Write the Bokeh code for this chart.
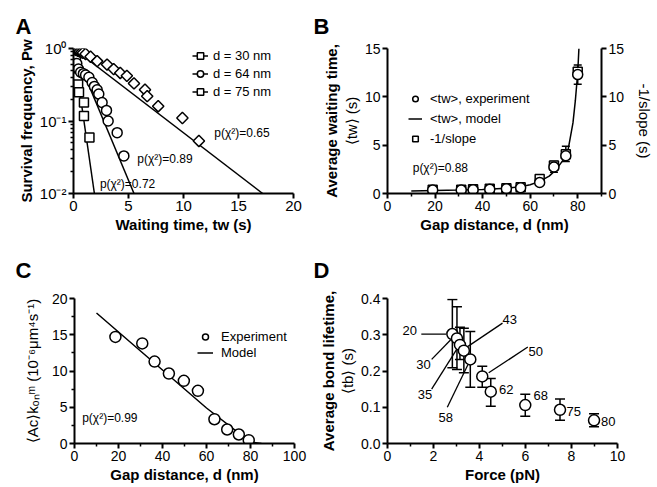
from bokeh.plotting import figure
from bokeh.models import (Range1d, LinearAxis, FixedTicker, Label, Legend, LegendItem,
                          Whisker, ColumnDataSource, CustomJSTickFormatter)
from bokeh.layouts import column, row
from bokeh.embed import file_html
from bokeh.resources import INLINE

FONT = "Liberation Sans"

# ---------------- Panel A data ----------------
a_t30 = [0.03, 0.07, 0.1, 0.15, 0.2, 0.25, 0.3, 0.38, 0.42, 0.5, 0.95, 0.95, 1.45]
a_p30 = [0.95, 0.88, 0.8, 0.72, 0.64, 0.56, 0.5, 0.4, 0.32, 0.25, 0.18, 0.117, 0.059]
a_t64 = [0.05, 0.1, 0.15, 0.2, 0.3, 0.45, 0.65, 0.9, 1.1, 1.4, 1.7, 1.9, 2.15, 2.3, 2.6, 3.0, 3.15, 3.97, 4.58]
a_p64 = [0.97, 0.9, 0.82, 0.75, 0.62, 0.52, 0.47, 0.45, 0.43, 0.4, 0.34, 0.3, 0.27, 0.235, 0.18, 0.14, 0.1, 0.069, 0.033]
a_t75 = [0.05, 0.15, 0.25, 0.4, 0.55, 0.7, 0.85, 1.1, 1.55, 2.15, 3.05, 3.65, 4.25, 4.85, 5.5, 6.5, 6.7, 7.7, 9.9, 11.4]
a_p75 = [0.99, 0.97, 0.95, 0.93, 0.91, 0.89, 0.87, 0.84, 0.77, 0.67, 0.6, 0.52, 0.46, 0.42, 0.33, 0.27, 0.22, 0.16, 0.11, 0.053]
a_fit30_t = [0, 1.9]
a_fit30_p = [1, 0.01]
a_fit64_t = [0, 5.5]
a_fit64_p = [1, 0.01]
a_fit75_t = [0, 17.2]
a_fit75_p = [1, 0.01]
a_labels = ["d = 30 nm", "d = 64 nm", "d = 75 nm"]
a_pchi = ["p(χ²)=0.72", "p(χ²)=0.89", "p(χ²)=0.65"]
a_pchi_x = [2.4, 5.8, 12.8]
a_pchi_y = [0.0135, 0.0295, 0.068]

# ---------------- Panel B data ----------------
b_d = [19, 31, 36, 43, 50, 56, 64, 70, 75, 80]
b_tw = [0.35, 0.35, 0.4, 0.45, 0.5, 0.6, 1.15, 2.75, 3.9, 12.3]
b_slope = [0.4, 0.4, 0.45, 0.5, 0.55, 0.65, 1.5, 2.9, 4.05, 12.6]
b_err_d = [64, 70, 75, 80]
b_err_lo = [0.95, 2.2, 3.3, 11.3]
b_err_hi = [1.6, 3.3, 4.9, 13.3]
b_model_d = [10, 20, 30, 40, 50, 56, 60, 64, 68, 71, 74, 76, 78, 79, 80, 80.5]
b_model_t = [0.25, 0.3, 0.35, 0.42, 0.55, 0.7, 0.9, 1.25, 1.8, 2.5, 3.5, 4.6, 7.3, 9.6, 12.5, 15.0]

# ---------------- Panel C data ----------------
c_d = [18.6, 30.8, 36.4, 42.9, 49.7, 56.1, 63.6, 69.4, 74.7, 79.2]
c_k = [14.7, 13.8, 11.3, 9.65, 8.64, 7.26, 3.35, 1.93, 1.24, 0.46]
c_err_d = [36.4]
c_err_lo = [10.8]
c_err_hi = [11.8]
c_model_d = [10, 60, 80, 85]
c_model_k = [18.0, 4.9, 0.2, 0.0]

# ---------------- Panel D data ----------------
d_f = [2.82, 3.02, 3.15, 3.32, 3.6, 4.12, 4.49, 5.99, 7.5, 8.98]
d_tb = [0.302, 0.29, 0.272, 0.256, 0.232, 0.185, 0.143, 0.106, 0.093, 0.064]
d_lo = [0.209, 0.204, 0.232, 0.195, 0.155, 0.155, 0.103, 0.075, 0.064, 0.046]
d_hi = [0.397, 0.377, 0.321, 0.318, 0.309, 0.213, 0.179, 0.136, 0.123, 0.082]
d_lab = ["20", "30", "35", "43", "58", "50", "62", "68", "75", "80"]
d_lab_x = [0.65, 1.25, 1.32, 5.0, 2.22, 6.13, 4.85, 6.35, 7.78, 9.28]
d_lab_y = [0.312, 0.218, 0.134, 0.341, 0.073, 0.254, 0.15, 0.132, 0.088, 0.061]
d_lead_x0 = [1.47, 1.92, 1.92, 5.0, 2.6, 6.1]
d_lead_y0 = [0.302, 0.232, 0.15, 0.332, 0.1, 0.266]
d_lead_x1 = [2.55, 2.75, 3.05, 3.5, 3.5, 4.4]
d_lead_y1 = [0.302, 0.286, 0.264, 0.268, 0.218, 0.195]


def style_axis(ax, tick_size="14px"):
    ax.axis_line_width = 2
    ax.axis_line_color = "black"
    ax.major_tick_line_width = 2
    ax.major_tick_line_color = "black"
    ax.major_tick_out = 5
    ax.major_tick_in = 0
    ax.minor_tick_line_width = 1.5
    ax.minor_tick_line_color = "black"
    ax.minor_tick_out = 3
    ax.minor_tick_in = 0
    ax.major_label_text_font = FONT
    ax.major_label_text_font_size = tick_size
    ax.major_label_text_color = "black"
    ax.major_label_standoff = 2
    ax.axis_label_text_font = FONT
    ax.axis_label_text_font_size = "15px"
    ax.axis_label_text_font_style = "bold"
    ax.axis_label_text_color = "black"
    ax.axis_label_standoff = 2


def make_fig(w, h, xr, yr, left, right, top, bottom, letter, offset, standoff, y_type="linear"):
    p = figure(width=w, height=h, x_range=xr, y_range=yr, y_axis_type=y_type,
               output_backend="svg", toolbar_location=None, title=letter,
               min_border_left=left, min_border_right=right,
               min_border_top=top, min_border_bottom=bottom)
    p.outline_line_color = None
    p.xgrid.visible = False
    p.ygrid.visible = False
    p.title.text_font = FONT
    p.title.text_font_size = "22px"
    p.title.text_font_style = "bold"
    p.title.text_color = "black"
    p.title.align = "left"
    p.title.offset = offset
    p.title.standoff = standoff
    for ax in p.axis:
        style_axis(ax)
    return p


def outer_label(p, text):
    ax = LinearAxis(ticker=FixedTicker(ticks=[]), axis_label=text)
    style_axis(ax)
    ax.axis_line_color = None
    ax.major_tick_line_color = None
    ax.minor_tick_line_color = None
    ax.axis_label_standoff = 0
    p.add_layout(ax, "left")


def legend(p, items, loc, gw, gh, sp, st):
    lg = Legend(items=items, location=loc)
    lg.label_text_font = FONT
    lg.label_text_font_size = "13px"
    lg.label_text_color = "black"
    lg.glyph_width = gw
    lg.glyph_height = gh
    lg.label_height = gh
    lg.spacing = sp
    lg.padding = 0
    lg.margin = 0
    lg.label_standoff = st
    lg.border_line_color = None
    lg.background_fill_alpha = 0
    p.add_layout(lg)


def plabel(p, x, y, text, size="12px"):
    p.add_layout(Label(x=x, y=y, text=text, text_font=FONT, text_font_size=size,
                       text_color="black", text_baseline="middle", text_align="left"))


# ================= Panel A =================
pa = make_fig(308, 240, Range1d(0, 20), Range1d(0.01, 1), 73, 15, 48, 47, "A", -58, 19, y_type="log")
pa.xaxis.ticker = FixedTicker(ticks=[0, 5, 10, 15, 20])
pa.yaxis.ticker = FixedTicker(ticks=[0.01, 0.1, 1],
                              minor_ticks=[0.02, 0.03, 0.04, 0.05, 0.06, 0.07, 0.08, 0.09,
                                           0.2, 0.3, 0.4, 0.5, 0.6, 0.7, 0.8, 0.9])
pa.yaxis.formatter = CustomJSTickFormatter(code="""
const e = Math.round(Math.log10(tick));
const sup = {'-': '\u207b', '0': '\u2070', '1': '\u00b9', '2': '\u00b2'};
return '10' + String(e).split('').map(c => sup[c]).join('');
""")
for ax in pa.axis:
    ax.major_label_text_font_size = "15px"
pa.xaxis.axis_label = "Waiting time, tw (s)"
pa.yaxis.axis_label = "Survival frequency, Pw"

l30 = pa.line(a_fit30_t, a_fit30_p, line_color="black", line_width=1.5)
l64 = pa.line(a_fit64_t, a_fit64_p, line_color="black", line_width=1.5)
l75 = pa.line(a_fit75_t, a_fit75_p, line_color="black", line_width=1.5)
s30 = pa.scatter(a_t30, a_p30, marker="square", size=9, fill_color="white", line_color="black", line_width=1.5)
s64 = pa.scatter(a_t64, a_p64, marker="circle", size=10, fill_color="white", line_color="black", line_width=1.5)
s75 = pa.scatter(a_t75, a_p75, marker="square", angle=0.785, size=8, fill_color="white", line_color="black", line_width=1.5)
legend(pa, [LegendItem(label=a_labels[0], renderers=[l30, s30]),
            LegendItem(label=a_labels[1], renderers=[l64, s64]),
            LegendItem(label=a_labels[2], renderers=[l75, s75])],
       (119, 93), 16, 17, 1, 5)
for x, y, t in zip(a_pchi_x, a_pchi_y, a_pchi):
    plabel(pa, x, y, t)

# ================= Panel B =================
pb = make_fig(348, 240, Range1d(0, 90), Range1d(0, 15), 79, 48, 47, 47, "B", -74, 19)
pb.xaxis.ticker = FixedTicker(ticks=[0, 20, 40, 60, 80], minor_ticks=[10, 30, 50, 70, 90])
pb.yaxis.ticker = FixedTicker(ticks=[0, 5, 10, 15])
pb.xaxis.axis_label = "Gap distance, d (nm)"
pb.yaxis.axis_label = "⟨tw⟩ (s)"
pb.yaxis.axis_label_text_font_style = "normal"
outer_label(pb, "Average waiting time,")
rax = LinearAxis(ticker=FixedTicker(ticks=[0, 5, 10, 15]), axis_label="-1/slope (s)")
style_axis(rax)
rax.axis_label_text_font_style = "normal"
rax.axis_label_standoff = 9
pb.add_layout(rax, "right")

bsrc = ColumnDataSource(dict(base=b_err_d, lower=b_err_lo, upper=b_err_hi))
wb = Whisker(source=bsrc, base="base", lower="lower", upper="upper", dimension="height",
             line_color="black", line_width=1.5)
wb.upper_head.size = 8
wb.lower_head.size = 8
wb.upper_head.line_width = 1.5
wb.lower_head.line_width = 1.5
pb.add_layout(wb)
lbm = pb.line(b_model_d, b_model_t, line_color="black", line_width=1.5)
sbs = pb.scatter(b_d, b_slope, marker="square", size=9, fill_color="white", line_color="black", line_width=1.5)
sbc = pb.scatter(b_d, b_tw, marker="circle", size=10, fill_color="white", line_color="black", line_width=1.5)
legend(pb, [LegendItem(label="<tw>, experiment", renderers=[sbc]),
            LegendItem(label="<tw>, model", renderers=[lbm]),
            LegendItem(label="-1/slope", renderers=[sbs])],
       (21, 45), 14, 19, 1, 8)
plabel(pb, 10.6, 2.67, "p(χ²)=0.88")

# ================= Panel C =================
pc = make_fig(308, 246, Range1d(0, 100), Range1d(0, 20), 74, 14, 58, 43, "C", -59, 31)
pc.xaxis.ticker = FixedTicker(ticks=[0, 20, 40, 60, 80, 100], minor_ticks=[10, 30, 50, 70, 90])
pc.yaxis.ticker = FixedTicker(ticks=[0, 5, 10, 15, 20], minor_ticks=[2.5, 7.5, 12.5, 17.5])
pc.xaxis.axis_label = "Gap distance, d (nm)"
pc.yaxis.axis_label = "⟨Ac⟩kₒₙᵐ (10⁻⁶μm⁴s⁻¹)"
pc.yaxis.axis_label_text_font_style = "normal"
pc.yaxis.axis_label_standoff = 8
csrc = ColumnDataSource(dict(base=c_err_d, lower=c_err_lo, upper=c_err_hi))
wc = Whisker(source=csrc, base="base", lower="lower", upper="upper", dimension="height",
             line_color="black", line_width=1.5)
wc.upper_head.size = 8
wc.lower_head.size = 8
pc.add_layout(wc)
lcm = pc.line(c_model_d, c_model_k, line_color="black", line_width=1.5)
scc = pc.scatter(c_d, c_k, marker="circle", size=11, fill_color="white", line_color="black", line_width=1.5)
legend(pc, [LegendItem(label="Experiment", renderers=[scc]),
            LegendItem(label="Model", renderers=[lcm])],
       (123, 83), 16, 15, 1, 8)
plabel(pc, 3.5, 3.45, "p(χ²)=0.99")

# ================= Panel D =================
pd_ = make_fig(348, 246, Range1d(0, 10), Range1d(0, 0.4), 79, 39, 57, 41, "D", -74, 31)
pd_.xaxis.ticker = FixedTicker(ticks=[0, 2, 4, 6, 8, 10], minor_ticks=[1, 3, 5, 7, 9])
pd_.yaxis.ticker = FixedTicker(ticks=[0, 0.1, 0.2, 0.3, 0.4])
pd_.yaxis.formatter = CustomJSTickFormatter(code="return tick.toFixed(1);")
pd_.xaxis.axis_label = "Force (pN)"
pd_.yaxis.axis_label = "⟨tb⟩ (s)"
pd_.yaxis.axis_label_text_font_style = "normal"
outer_label(pd_, "Average bond lifetime,")
dsrc = ColumnDataSource(dict(base=d_f, lower=d_lo, upper=d_hi))
wd = Whisker(source=dsrc, base="base", lower="lower", upper="upper", dimension="height",
             line_color="black", line_width=1.5)
wd.upper_head.size = 10
wd.lower_head.size = 10
wd.upper_head.line_width = 1.5
wd.lower_head.line_width = 1.5
pd_.add_layout(wd)
pd_.segment(d_lead_x0, d_lead_y0, d_lead_x1, d_lead_y1, line_color="black", line_width=1.3)
pd_.scatter(d_f, d_tb, marker="circle", size=11, fill_color="white", line_color="black", line_width=1.5)
for x, y, t in zip(d_lab_x, d_lab_y, d_lab):
    plabel(pd_, x, y, t, size="13px")

layout = column(row(pa, pb), row(pc, pd_))
open("out.html", "w").write(file_html(layout, INLINE))
